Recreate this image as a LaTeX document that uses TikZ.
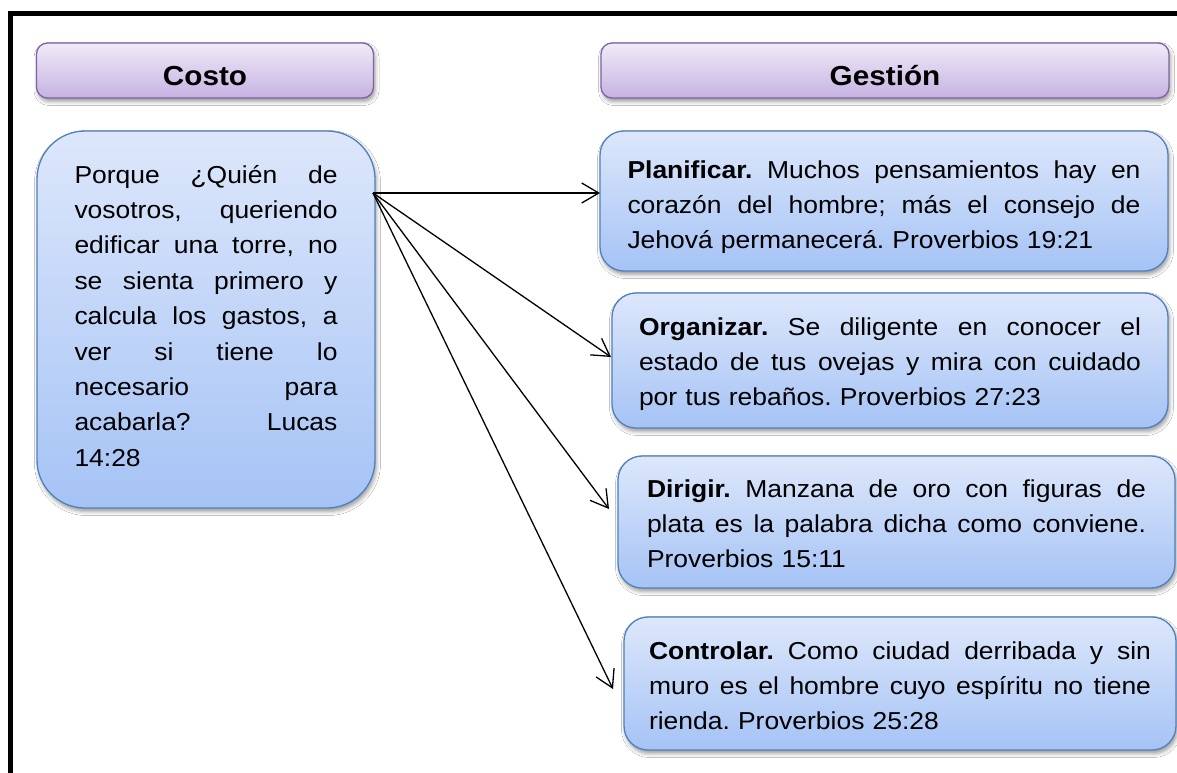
\documentclass[tikz,border=0pt]{standalone}
\usepackage{fontspec}
\setmainfont{Liberation Sans}[FakeStretch=1.08]
\usetikzlibrary{arrows.meta,shadows.blur}
\setlength\parindent{0pt}
\frenchspacing
\definecolor{bluetop}{HTML}{DDE7FB}
\definecolor{bluebot}{HTML}{A5C3F5}
\definecolor{blueline}{HTML}{4F81BD}
\definecolor{purtop}{HTML}{F0EBF8}
\definecolor{purbot}{HTML}{C6B2E2}
\definecolor{purline}{HTML}{8064A2}
\newcommand{\jl}[1]{\leavevmode\hbox to \hsize{\spaceskip=0.28em plus 1fil\xspaceskip=\spaceskip #1}}
\tikzset{
  shadowed/.style={blur shadow={shadow xshift=1.5pt, shadow yshift=-3.5pt, shadow blur radius=4pt, shadow opacity=40}},
  bodybox/.style={shadowed, draw=blueline, line width=1.3pt, rounded corners=24pt,
    top color=bluetop, bottom color=bluebot, align=left, inner sep=0pt,
    font=\fontsize{24.5}{35}\selectfont},
  headbox/.style={shadowed, draw=purline, line width=1.3pt, rounded corners=11pt,
    top color=purtop, bottom color=purbot, inner sep=0pt,
    font=\bfseries\fontsize{27.5}{30}\selectfont, text height=29pt, text depth=0pt},
  conn/.style={-{Straight Barb[length=17pt,width=20pt]}, line width=1.3pt, black},
  frameline/.style={line width=5pt, black}
}
\begin{document}
\begin{tikzpicture}[x=1pt,y=-1pt]
\useasboundingbox (0,0) rectangle (1177,772);
\clip (0,0) rectangle (1177,772);
\fill[white] (0,0) rectangle (1177,772);
\draw[frameline] (10,800) -- (10,13) -- (1200,13);

\node[headbox, minimum width=337pt, minimum height=55pt] (hcost) at (205,70.5) {Costo};
\node[headbox, minimum width=568pt, minimum height=55pt] (hgest) at (885,70.5) {Gestión};

\node[bodybox, rounded corners=48pt, minimum width=338pt, minimum height=377pt, text width=263pt,
      font=\fontsize{24.5}{35.4}\selectfont, text height=10pt, text depth=283pt] (cost) at (206,319.5)
  {\jl{Porque ¿Quién de}\\
   \jl{vosotros, queriendo}\\
   \jl{edificar una torre, no}\\
   \jl{se sienta primero y}\\
   \jl{calcula los gastos, a}\\
   \jl{ver si tiene lo}\\
   \jl{necesario para}\\
   \jl{acabarla? Lucas}\\
   14:28};

\node[bodybox, minimum width=568pt, minimum height=140pt, text width=513pt,
      text height=19pt, text depth=65pt] (plan) at (884,201)
  {\jl{\textbf{Planificar.} Muchos pensamientos hay en}\\
   \jl{corazón del hombre; más el consejo de}\\
   Jehová permanecerá. Proverbios 19:21};

\node[bodybox, minimum width=556pt, minimum height=135pt, text width=502pt,
      text height=16pt, text depth=67pt] (org) at (890,360.5)
  {\jl{\textbf{Organizar.} Se diligente en conocer el}\\
   \jl{estado de tus ovejas y mira con cuidado}\\
   por tus rebaños. Proverbios 27:23};

\node[bodybox, minimum width=557pt, minimum height=132pt, text width=499pt,
      text height=17pt, text depth=67pt] (dir) at (896.5,522)
  {\jl{\textbf{Dirigir.} Manzana de oro con figuras de}\\
   \jl{plata es la palabra dicha como conviene.}\\
   Proverbios 15:11};

\node[bodybox, minimum width=552pt, minimum height=133pt, text width=502pt,
      text height=17pt, text depth=66pt] (ctl) at (900,683.5)
  {\jl{\textbf{Controlar.} Como ciudad derribada y sin}\\
   \jl{muro es el hombre cuyo espíritu no tiene}\\
   rienda. Proverbios 25:28};

\coordinate (src) at (373,193);
\coordinate (tplan) at (600,193);
\coordinate (torg) at (611,357);
\coordinate (tdir) at (609,509);
\coordinate (tctl) at (613,689);

\draw[conn] (src) -- (tplan);
\draw[conn] (src) -- (torg);
\draw[conn] (src) -- (tdir);
\draw[conn] (src) -- (tctl);
\end{tikzpicture}
\end{document}
